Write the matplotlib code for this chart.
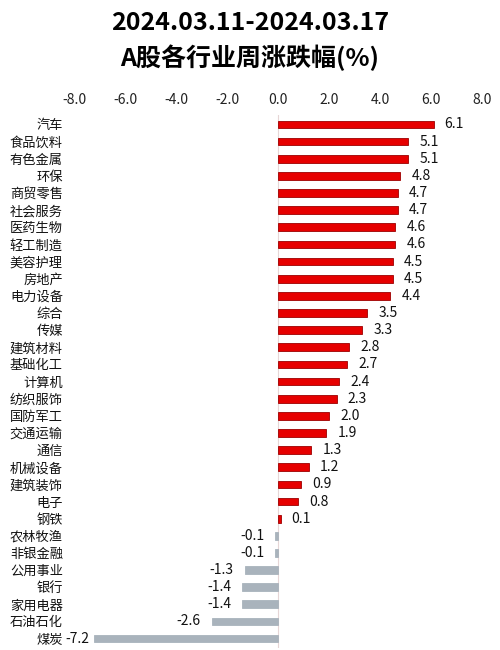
import matplotlib
matplotlib.use("Agg")
import matplotlib.pyplot as plt
import numpy as np

plt.rcParams['font.family'] = ['Noto Sans CJK SC', 'DejaVu Sans']

# data, top to bottom
industries = ['汽车', '食品饮料', '有色金属', '环保', '商贸零售', '社会服务', '医药生物',
              '轻工制造', '美容护理', '房地产', '电力设备', '综合', '传媒', '建筑材料',
              '基础化工', '计算机', '纺织服饰', '国防军工', '交通运输', '通信', '机械设备',
              '建筑装饰', '电子', '钢铁', '农林牧渔', '非银金融', '公用事业', '银行',
              '家用电器', '石油石化', '煤炭']
changes = [6.1, 5.1, 5.1, 4.8, 4.7, 4.7, 4.6, 4.6, 4.5, 4.5, 4.4, 3.5, 3.3, 2.8,
           2.7, 2.4, 2.3, 2.0, 1.9, 1.3, 1.2, 0.9, 0.8, 0.1, -0.1, -0.1, -1.3, -1.4,
           -1.4, -2.6, -7.2]
xticks = [-8.0, -6.0, -4.0, -2.0, 0.0, 2.0, 4.0, 6.0, 8.0]

fig = plt.figure(figsize=(5, 6.5), dpi=100)
ax = fig.add_axes([0.148, 0.003, 0.816, 0.820])

ypos = np.arange(len(industries))
colors = ['#e60000' if v > 0 else '#a9b3bc' for v in changes]
edges = ['#9c0000' if v > 0 else '#a9b3bc' for v in changes]
ax.barh(ypos, changes, height=0.45, color=colors, edgecolor=edges, linewidth=0.6, zorder=3)
ax.axvline(0, color='#e6d6d6', lw=0.8, zorder=1)

# value labels
for y, v in zip(ypos, changes):
    if v >= 0:
        ax.annotate(f'{v:.1f}', (v, y), xytext=(8, 0), textcoords='offset points',
                    ha='left', va='center', fontsize=10, color='#111111')
    else:
        # the longest bar leaves little room before the category labels
        off = -3.5 if v < -6 else -8
        ax.annotate(f'{v:.1f}', (v, y), xytext=(off, 0), textcoords='offset points',
                    ha='right', va='center', fontsize=10, color='#111111')

ax.set_xlim(-8, 8)
ax.set_ylim(len(industries) - 0.45, -0.55)
ax.set_xticks(xticks)
ax.set_xticklabels([f'{t:.1f}' for t in xticks], fontsize=10, color='#222222')
ax.xaxis.tick_top()
ax.set_yticks(ypos)
ax.set_yticklabels(industries, fontsize=9.5, color='#111111')
ax.tick_params(axis='both', length=0)
ax.tick_params(axis='x', pad=6)
ax.tick_params(axis='y', pad=8)
for s in ax.spines.values():
    s.set_visible(False)

fig.text(0.5, 0.965, '2024.03.11-2024.03.17', ha='center', va='center',
         fontsize=18, fontweight='bold')
fig.text(0.5, 0.911, 'A股各行业周涨跌幅(%)', ha='center', va='center',
         fontsize=18, fontweight='bold')

fig.savefig('out.png', dpi=100)
